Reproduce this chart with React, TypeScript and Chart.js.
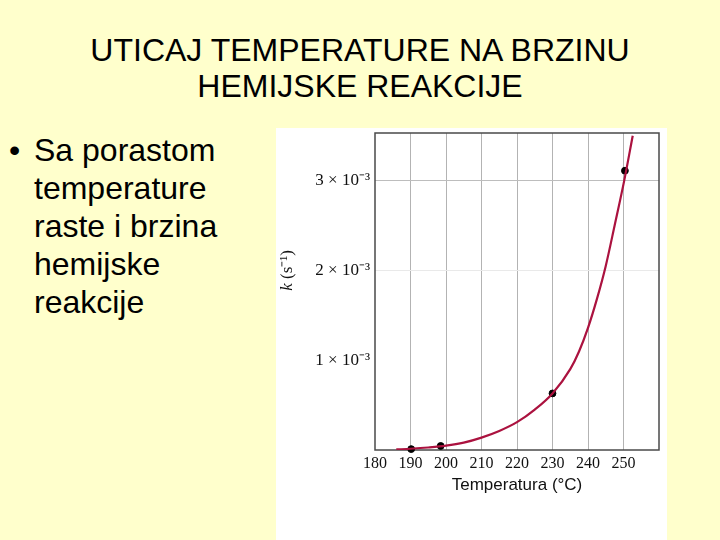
import React, { useEffect, useRef } from "react";
import { Chart, registerables } from "chart.js";

Chart.register(...registerables);

// ---- Text content ----
const TITLE_LINES = ["UTICAJ TEMPERATURE NA BRZINU", "HEMIJSKE REAKCIJE"];
const BULLET_LINES = ["Sa porastom", "temperature", "raste i brzina", "hemijske", "reakcije"];
const X_TITLE = "Temperatura (°C)";
const Y_TITLE_VAR = "k";
const Y_TITLE_UNIT = " (s⁻¹)";

// ---- Data ----
// smooth fitted curve, temperature (°C) and rate constant k (s^-1)
const curveTemps = [186, 190, 195, 200, 205, 210, 215, 220, 225, 230, 235, 237.5, 240, 242.5, 245, 247.5, 250.2, 252.6];
const curveK = [0.000006, 0.000014, 0.000028, 0.000048, 0.000082, 0.000138, 0.000212, 0.00031, 0.00045, 0.00063, 0.0009, 0.0011, 0.00136, 0.00168, 0.00205, 0.0025, 0.003, 0.0035];
// measured points
const pointTemps = [190.2, 198.5, 230, 250.4];
const pointK = [0.00001, 0.000045, 0.00063, 0.00311];

// ---- Axes ----
const xTicks = [180, 190, 200, 210, 220, 230, 240, 250, 260];
const xLabels = ["180", "190", "200", "210", "220", "230", "240", "250", ""];
const X_MIN = 180;
const X_MAX = 260;
const yTicks = [0.001, 0.002, 0.003];
const yLabels = ["1 × 10⁻³", "2 × 10⁻³", "3 × 10⁻³"];
const yGridColors = ["rgba(0,0,0,0)", "#e9e9e9", "#bdbdbd"];
const Y_MIN = 0;
const Y_MAX = 0.00353;
const Y_TITLE_ANCHOR = 0.002;

const SERIF = '"Liberation Serif", "Times New Roman", serif';
const SANS = '"Liberation Sans", Arial, sans-serif';

const framePlugin = {
  id: "frame",
  beforeDatasetsDraw(chart: any) {
    const { ctx, chartArea } = chart;
    const { left, top, right, bottom } = chartArea;
    ctx.save();
    ctx.strokeStyle = "#4a4a4a";
    ctx.lineWidth = 1.5;
    ctx.strokeRect(left, top, right - left, bottom - top);
    ctx.restore();
  },
};

const yTitlePlugin = {
  id: "yTitle",
  afterDraw(chart: any) {
    const { ctx, chartArea } = chart;
    const ys = chart.scales.y;
    const cy = ys.getPixelForValue(Y_TITLE_ANCHOR);
    const cx = chartArea.left - 87;
    const f1 = `italic 17px ${SERIF}`;
    const f2 = `17px ${SERIF}`;
    ctx.save();
    ctx.translate(cx, cy);
    ctx.rotate(-Math.PI / 2);
    ctx.textBaseline = "middle";
    ctx.textAlign = "left";
    ctx.fillStyle = "#111";
    ctx.font = f1;
    const w1 = ctx.measureText(Y_TITLE_VAR).width;
    ctx.font = f2;
    const w2 = ctx.measureText(Y_TITLE_UNIT).width;
    const x0 = -(w1 + w2) / 2;
    ctx.font = f1;
    ctx.fillText(Y_TITLE_VAR, x0, 0);
    ctx.font = f2;
    ctx.fillText(Y_TITLE_UNIT, x0 + w1, 0);
    ctx.restore();
  },
};

function RateChart() {
  const ref = useRef<HTMLCanvasElement | null>(null);
  useEffect(() => {
    if (!ref.current) return;
    const chart = new Chart(ref.current, {
      type: "scatter",
      data: {
        datasets: [
          {
            type: "line",
            data: curveTemps.map((t, i) => ({ x: t, y: curveK[i] })),
            borderColor: "#ab123f",
            borderWidth: 2.2,
            pointRadius: 0,
            fill: false,
            cubicInterpolationMode: "monotone",
          } as any,
          {
            type: "scatter",
            data: pointTemps.map((t, i) => ({ x: t, y: pointK[i] })),
            backgroundColor: "#000",
            borderColor: "#000",
            pointRadius: 3.4,
            clip: false,
          } as any,
        ],
      },
      options: {
        responsive: false,
        maintainAspectRatio: false,
        animation: false,
        devicePixelRatio: 1,
        layout: { padding: { top: 3, right: 8, left: 0, bottom: 0 } },
        plugins: { legend: { display: false }, tooltip: { enabled: false } },
        scales: {
          x: {
            type: "linear",
            min: X_MIN,
            max: X_MAX,
            afterBuildTicks: (s: any) => {
              s.ticks = xTicks.map((v) => ({ value: v }));
            },
            afterFit: (s: any) => {
              s.height = 90;
              s.paddingLeft = 0;
              s.paddingRight = 0;
            },
            ticks: {
              autoSkip: false,
              maxRotation: 0,
              padding: 4,
              color: "#111",
              font: { family: SERIF, size: 16 },
              callback: (_v: any, i: number) => xLabels[i],
            },
            grid: {
              drawTicks: false,
              lineWidth: 1,
              color: (ctx: any) => {
                const v = ctx.tick ? ctx.tick.value : null;
                return v === X_MIN || v === X_MAX ? "rgba(0,0,0,0)" : "#b3b3b3";
              },
            },
            border: { display: false },
            title: {
              display: true,
              text: X_TITLE,
              color: "#111",
              font: { family: SANS, size: 17 },
              padding: { top: 0, bottom: 44 },
            },
          },
          y: {
            type: "linear",
            min: Y_MIN,
            max: Y_MAX,
            afterBuildTicks: (s: any) => {
              s.ticks = yTicks.map((v) => ({ value: v }));
            },
            afterFit: (s: any) => {
              s.width = 99;
              s.paddingTop = 0;
              s.paddingBottom = 0;
            },
            ticks: {
              padding: 5,
              color: "#111",
              font: { family: SERIF, size: 17 },
              callback: (_v: any, i: number) => yLabels[i],
            },
            grid: {
              drawTicks: false,
              lineWidth: 1,
              color: (ctx: any) => yGridColors[ctx.index] ?? "rgba(0,0,0,0)",
            },
            border: { display: false },
          },
        },
      } as any,
      plugins: [framePlugin, yTitlePlugin],
    });
    return () => chart.destroy();
  }, []);
  return (
    <canvas
      ref={ref}
      width={391}
      height={412}
      style={{
        position: "absolute",
        left: 276,
        top: 128,
        width: 391,
        height: 412,
        background: "#ffffff",
        display: "block",
      }}
    />
  );
}

export default function App() {
  return (
    <div
      style={{
        position: "absolute",
        left: 0,
        top: 0,
        width: 720,
        height: 540,
        background: "#ffffcc",
        overflow: "hidden",
        fontFamily: SANS,
        color: "#000",
      }}
    >
      <div
        style={{
          position: "absolute",
          left: 0,
          top: 32,
          width: 720,
          textAlign: "center",
          fontSize: 32,
          lineHeight: "36px",
          whiteSpace: "nowrap",
        }}
      >
        {TITLE_LINES.map((l, i) => (
          <div key={i}>{l}</div>
        ))}
      </div>
      <div
        style={{
          position: "absolute",
          left: 9,
          top: 131,
          fontSize: 32,
          lineHeight: "38px",
        }}
      >
        •
      </div>
      <div
        style={{
          position: "absolute",
          left: 34,
          top: 131,
          fontSize: 32,
          lineHeight: "38px",
          whiteSpace: "nowrap",
        }}
      >
        {BULLET_LINES.map((l, i) => (
          <div key={i}>{l}</div>
        ))}
      </div>
      <RateChart />
    </div>
  );
}
